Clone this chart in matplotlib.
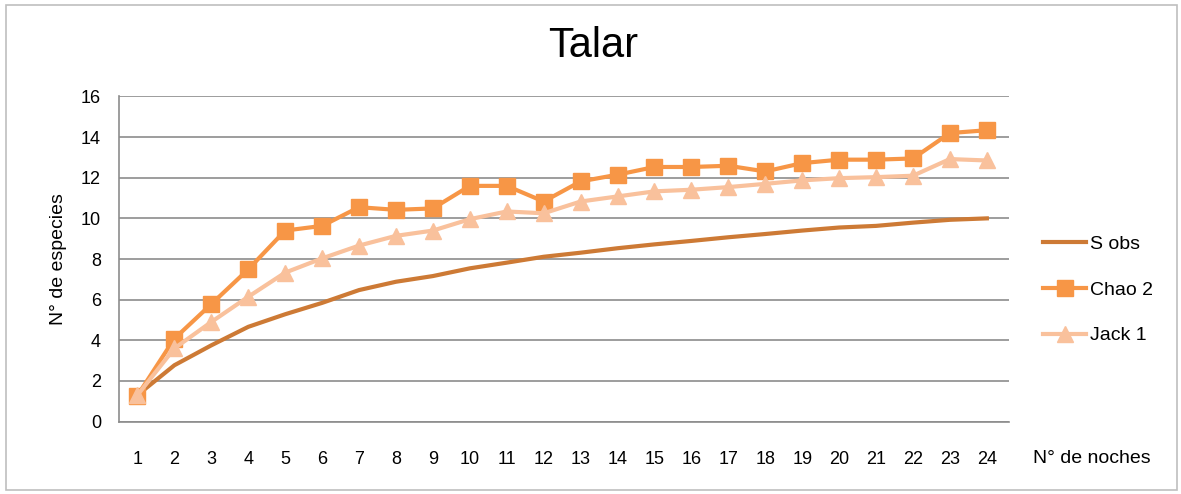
import matplotlib.pyplot as plt
from matplotlib.patches import Rectangle

noches = list(range(1, 25))
sobs = [1.3, 2.77, 3.75, 4.66, 5.28, 5.84, 6.47, 6.88, 7.16, 7.54, 7.82, 8.11,
        8.31, 8.53, 8.72, 8.89, 9.07, 9.23, 9.4, 9.55, 9.63, 9.79, 9.93, 10.0]
chao2 = [1.28, 4.08, 5.78, 7.49, 9.4, 9.63, 10.55, 10.42, 10.49, 11.6, 11.6, 10.83,
         11.82, 12.15, 12.53, 12.53, 12.59, 12.31, 12.72, 12.89, 12.89, 12.95, 14.2, 14.34]
jack1 = [1.3, 3.6, 4.9, 6.14, 7.33, 8.03, 8.66, 9.14, 9.4, 9.96, 10.34, 10.25,
         10.83, 11.08, 11.33, 11.41, 11.54, 11.7, 11.87, 11.98, 12.03, 12.1, 12.92, 12.85]

plt.rcParams['font.family'] = ['Liberation Sans', 'DejaVu Sans']

fig = plt.figure(figsize=(11.81, 4.94), dpi=100)
ax = fig.add_axes([119 / 1181, 1 - 421.5 / 494, (1009 - 119) / 1181, (421.5 - 96.5) / 494])

# outer chart border
fig.patches.append(Rectangle((6 / 1181, 1 - 490 / 494), 1171 / 1181, 485 / 494,
                             transform=fig.transFigure, fill=False,
                             edgecolor='#BFBFBF', linewidth=1.2))

ax.plot(noches, sobs, color='#CD7A35', linewidth=3, label='S obs')
ax.plot(noches, chao2, color='#F79646', linewidth=3, marker='s', markersize=11, label='Chao 2')
ax.plot(noches, jack1, color='#F9C19C', linewidth=3, marker='^', markersize=11, label='Jack 1')

ax.set_xlim(0.5, 24.6)
ax.set_ylim(0, 16)
ax.set_yticks(range(0, 17, 2))
ax.set_xticks(noches)
ax.tick_params(length=0, labelsize=13)
ax.tick_params(axis='x', pad=21)
ax.tick_params(axis='y', pad=13)
ax.grid(axis='y', color='#8C8C8C', linewidth=1.2)
ax.set_axisbelow(True)
for s in ['top', 'right']:
    ax.spines[s].set_visible(False)
for s in ['left', 'bottom']:
    ax.spines[s].set_color('#8C8C8C')
    ax.spines[s].set_linewidth(1.2)

ax.set_ylabel('N° de especies', fontsize=14, labelpad=10)
fig.text(1033 / 1181, 1 - 458 / 494, 'N° de noches', fontsize=14, va='center', ha='left')
fig.text(593 / 1181, 1 - 46 / 494, 'Talar', fontsize=30, ha='center', va='center')

ax.legend(loc='center left', bbox_to_anchor=(1.019, 0.405), frameon=False,
          fontsize=14, handlelength=2.2, labelspacing=1.45, handletextpad=0.2)

fig.savefig('out.png', dpi=100)
